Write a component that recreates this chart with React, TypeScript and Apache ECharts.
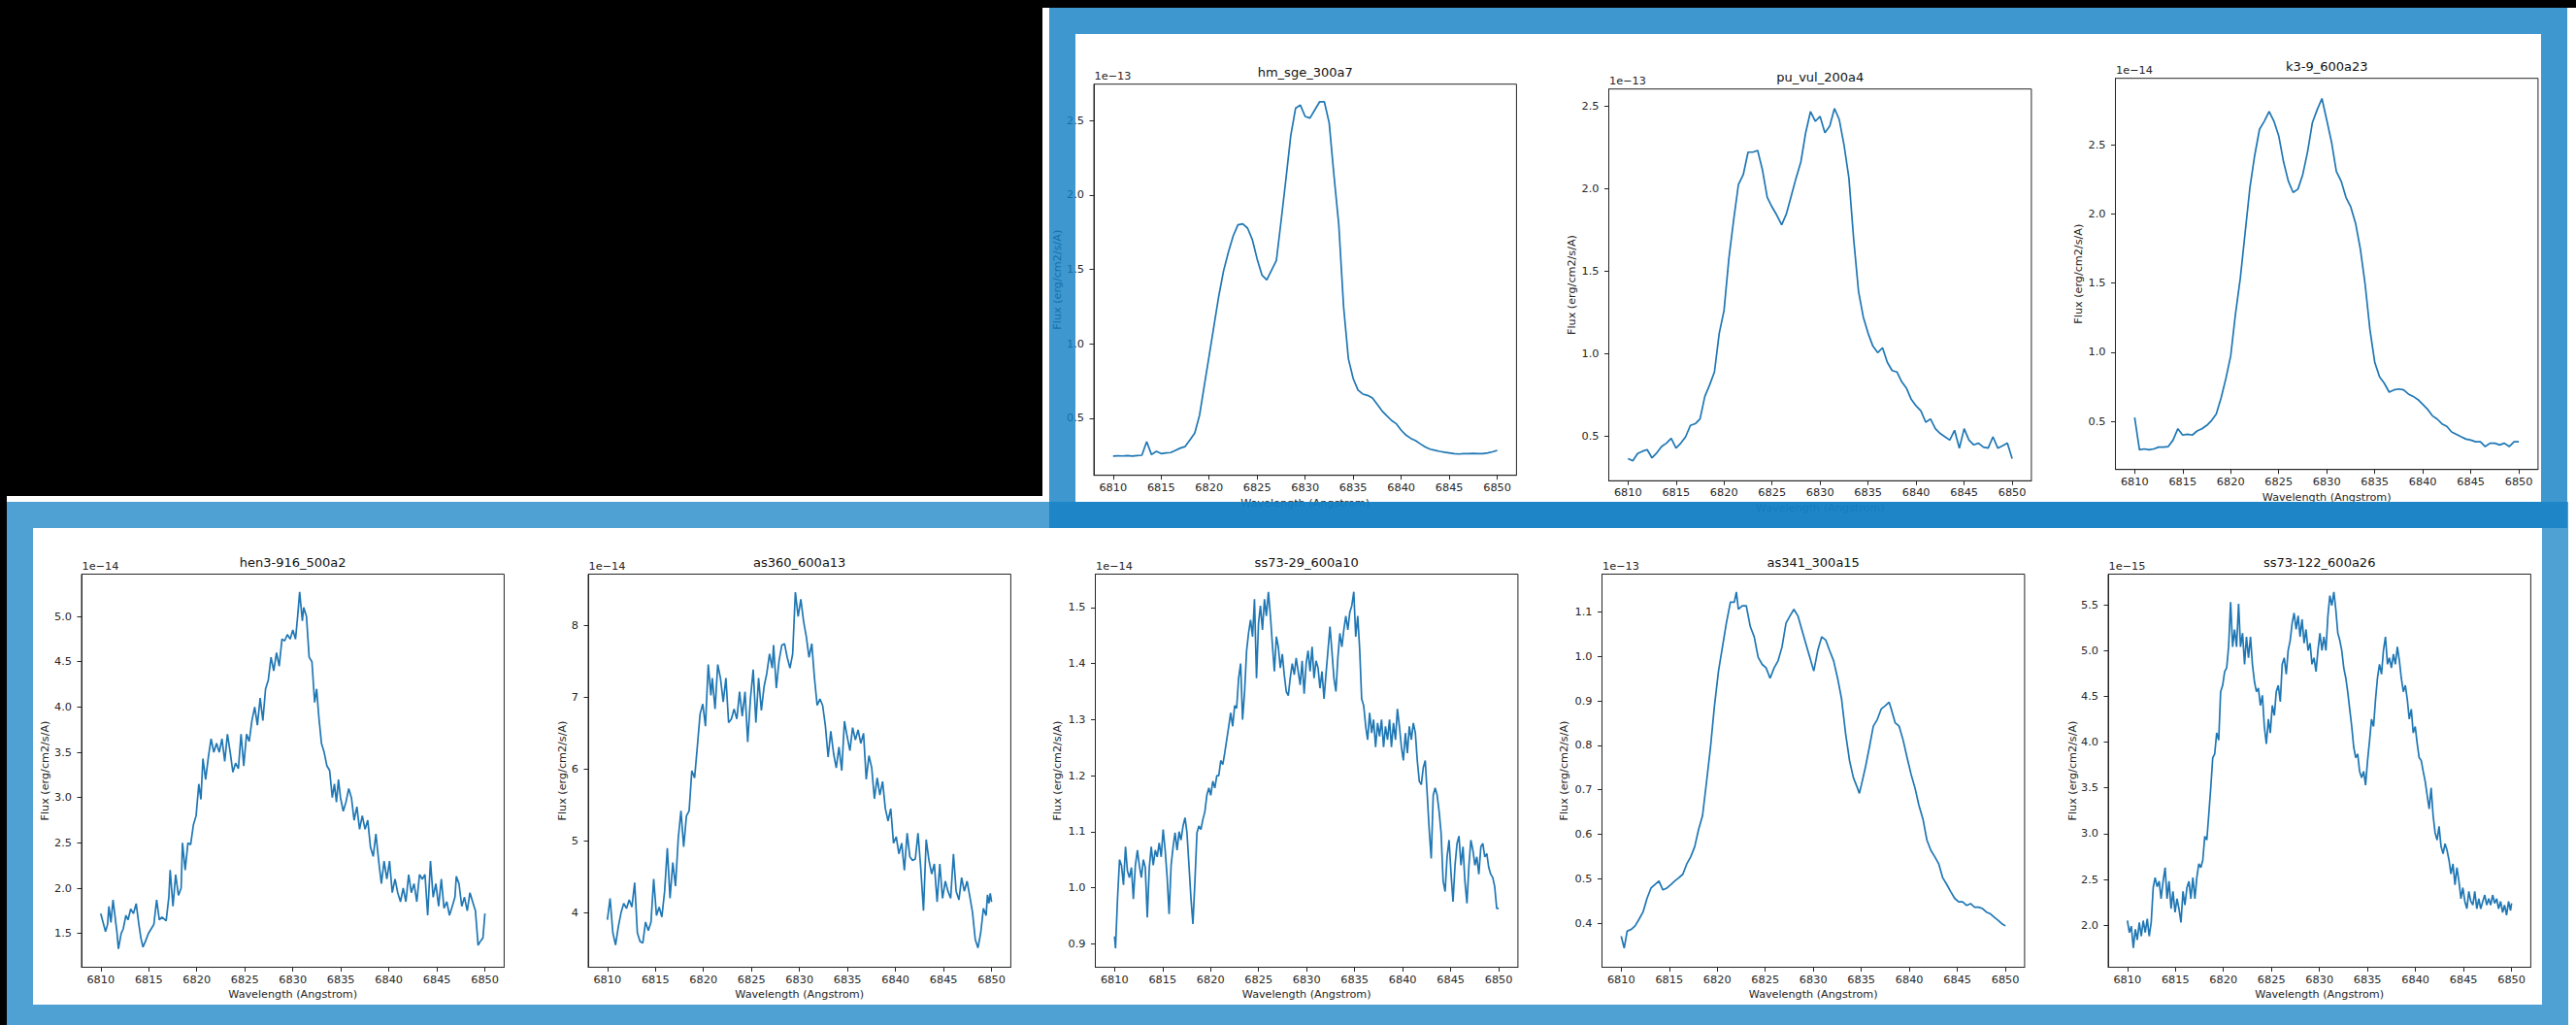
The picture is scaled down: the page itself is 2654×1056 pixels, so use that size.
import React, { useEffect, useRef } from "react";
import * as echarts from "echarts";

// ---------------- data ----------------
const X_TICKS = [6810, 6815, 6820, 6825, 6830, 6835, 6840, 6845, 6850];

const TITLES = [
  "hm_sge_300a7", "pu_vul_200a4", "k3-9_600a23",
  "hen3-916_500a2", "as360_600a13", "ss73-29_600a10", "as341_300a15", "ss73-122_600a26",
];
const EXPONENTS = ["1e\u221213", "1e\u221213", "1e\u221214", "1e\u221214", "1e\u221214", "1e\u221214", "1e\u221213", "1e\u221215"];

const Y_TICKS_HM = [0.5, 1.0, 1.5, 2.0, 2.5];
const Y_TICKS_PU = [0.5, 1.0, 1.5, 2.0, 2.5];
const Y_TICKS_K3 = [0.5, 1.0, 1.5, 2.0, 2.5];
const Y_TICKS_HEN = [1.5, 2.0, 2.5, 3.0, 3.5, 4.0, 4.5, 5.0];
const Y_TICKS_AS360 = [4, 5, 6, 7, 8];
const Y_TICKS_SS29 = [0.9, 1.0, 1.1, 1.2, 1.3, 1.4, 1.5];
const Y_TICKS_AS341 = [0.4, 0.5, 0.6, 0.7, 0.8, 0.9, 1.0, 1.1];
const Y_TICKS_SS122 = [2.0, 2.5, 3.0, 3.5, 4.0, 4.5, 5.0, 5.5];

const WL_HALF = [
  6810, 6810.5, 6811, 6811.5, 6812, 6812.5, 6813, 6813.5, 6814, 6814.5,
  6815, 6815.5, 6816, 6816.5, 6817, 6817.5, 6818, 6818.5, 6819, 6819.5,
  6820, 6820.5, 6821, 6821.5, 6822, 6822.5, 6823, 6823.5, 6824, 6824.5,
  6825, 6825.5, 6826, 6826.5, 6827, 6827.5, 6828, 6828.5, 6829, 6829.5,
  6830, 6830.5, 6831, 6831.5, 6832, 6832.5, 6833, 6833.5, 6834, 6834.5,
  6835, 6835.5, 6836, 6836.5, 6837, 6837.5, 6838, 6838.5, 6839, 6839.5,
  6840, 6840.5, 6841, 6841.5, 6842, 6842.5, 6843, 6843.5, 6844, 6844.5,
  6845, 6845.5, 6846, 6846.5, 6847, 6847.5, 6848, 6848.5, 6849, 6849.5,
  6850,
];

const HM_FLUX = [
  0.246, 0.248, 0.247, 0.250, 0.246, 0.250, 0.252, 0.343, 0.256, 0.278,
  0.263, 0.268, 0.270, 0.285, 0.300, 0.310, 0.355, 0.400, 0.520, 0.720,
  0.920, 1.120, 1.320, 1.490, 1.615, 1.724, 1.800, 1.806, 1.778, 1.700,
  1.570, 1.463, 1.430, 1.495, 1.560, 1.830, 2.110, 2.400, 2.583, 2.604,
  2.528, 2.517, 2.572, 2.626, 2.626, 2.485, 2.130, 1.800, 1.250, 0.900,
  0.767, 0.690, 0.663, 0.654, 0.637, 0.594, 0.550, 0.517, 0.485, 0.463,
  0.420, 0.387, 0.365, 0.350, 0.328, 0.307, 0.293, 0.285, 0.278, 0.272,
  0.267, 0.262, 0.260, 0.262, 0.263, 0.264, 0.263, 0.262, 0.267, 0.275,
  0.285,
];

const PU_FLUX = [
  0.363, 0.350, 0.394, 0.408, 0.418, 0.368, 0.398, 0.437, 0.457, 0.486,
  0.427, 0.457, 0.496, 0.565, 0.575, 0.604, 0.741, 0.810, 0.889, 1.124,
  1.262, 1.576, 1.811, 2.027, 2.086, 2.223, 2.223, 2.233, 2.115, 1.948,
  1.890, 1.840, 1.782, 1.850, 1.958, 2.066, 2.164, 2.341, 2.469, 2.410,
  2.440, 2.341, 2.380, 2.488, 2.420, 2.263, 2.066, 1.693, 1.379, 1.222,
  1.124, 1.046, 1.006, 1.036, 0.948, 0.898, 0.889, 0.830, 0.790, 0.722,
  0.683, 0.653, 0.584, 0.604, 0.545, 0.516, 0.496, 0.476, 0.535, 0.427,
  0.545, 0.476, 0.447, 0.457, 0.433, 0.427, 0.496, 0.427, 0.441, 0.457,
  0.363,
];

const K3_FLUX = [
  0.528, 0.294, 0.300, 0.294, 0.300, 0.313, 0.313, 0.317, 0.364, 0.446,
  0.400, 0.406, 0.400, 0.430, 0.446, 0.470, 0.505, 0.552, 0.669, 0.810,
  0.973, 1.278, 1.535, 1.863, 2.190, 2.425, 2.613, 2.672, 2.742, 2.672,
  2.566, 2.379, 2.238, 2.156, 2.180, 2.285, 2.449, 2.660, 2.754, 2.836,
  2.680, 2.520, 2.308, 2.238, 2.121, 2.051, 1.934, 1.746, 1.489, 1.161,
  0.926, 0.821, 0.774, 0.711, 0.727, 0.734, 0.727, 0.697, 0.680, 0.657,
  0.622, 0.587, 0.540, 0.516, 0.481, 0.463, 0.423, 0.406, 0.388, 0.371,
  0.364, 0.352, 0.352, 0.317, 0.341, 0.341, 0.329, 0.341, 0.317, 0.352,
  0.352,
];

const HEN_WL = [
  6810.00, 6810.50, 6810.71, 6810.85, 6811.06, 6811.28, 6811.70, 6811.84, 6812.13, 6812.34,
  6812.62, 6812.84, 6813.12, 6813.40, 6813.69, 6813.97, 6814.18, 6814.40, 6814.68, 6814.96,
  6815.25, 6815.53, 6815.82, 6816.10, 6816.38, 6816.81, 6817.09, 6817.23, 6817.52, 6817.80,
  6818.09, 6818.37, 6818.51, 6818.79, 6819.08, 6819.36, 6819.65, 6819.93, 6820.21, 6820.43,
  6820.64, 6820.92, 6821.21, 6821.49, 6821.77, 6822.06, 6822.34, 6822.62, 6822.91, 6823.19,
  6823.48, 6823.76, 6824.04, 6824.33, 6824.61, 6824.89, 6825.18, 6825.46, 6825.74, 6826.03,
  6826.31, 6826.60, 6826.88, 6827.16, 6827.45, 6827.73, 6828.01, 6828.30, 6828.58, 6828.87,
  6829.15, 6829.43, 6829.72, 6830.00, 6830.28, 6830.50, 6830.71, 6830.99, 6831.13, 6831.42,
  6831.70, 6831.99, 6832.27, 6832.48, 6832.70, 6832.98, 6833.26, 6833.55, 6833.83, 6834.11,
  6834.33, 6834.54, 6834.75, 6834.96, 6835.25, 6835.53, 6835.82, 6836.10, 6836.38, 6836.67,
  6836.95, 6837.23, 6837.52, 6837.80, 6838.09, 6838.37, 6838.65, 6838.94, 6839.22, 6839.50,
  6839.79, 6840.07, 6840.35, 6840.64, 6840.92, 6841.21, 6841.49, 6841.77, 6842.06, 6842.34,
  6842.62, 6842.91, 6843.19, 6843.48, 6843.76, 6844.04, 6844.33, 6844.61, 6844.89, 6845.18,
  6845.46, 6845.74, 6846.03, 6846.31, 6846.60, 6846.88, 6847.02, 6847.30, 6847.59, 6847.87,
  6848.16, 6848.44, 6848.72, 6849.01, 6849.29, 6849.57, 6849.79, 6850.00,
];
const HEN_FLUX = [
  1.72, 1.52, 1.60, 1.80, 1.62, 1.87, 1.50, 1.33, 1.50, 1.55,
  1.70, 1.65, 1.77, 1.72, 1.83, 1.60, 1.45, 1.35, 1.42, 1.50,
  1.55, 1.60, 1.87, 1.65, 1.68, 1.64, 1.90, 2.20, 1.80, 2.15,
  1.92, 2.00, 2.50, 2.20, 2.50, 2.48, 2.70, 2.80, 3.15, 2.98,
  3.43, 3.20, 3.45, 3.65, 3.50, 3.60, 3.50, 3.65, 3.40, 3.70,
  3.50, 3.28, 3.38, 3.32, 3.70, 3.35, 3.70, 3.62, 3.85, 4.00,
  3.80, 4.10, 3.85, 4.20, 4.30, 4.55, 4.40, 4.60, 4.45, 4.75,
  4.73, 4.80, 4.75, 4.85, 4.75, 5.00, 5.27, 4.95, 5.10, 5.00,
  4.55, 4.50, 4.05, 4.20, 3.90, 3.60, 3.50, 3.35, 3.30, 3.00,
  3.15, 2.95, 3.20, 3.00, 2.85, 2.95, 3.10, 3.00, 2.75, 2.90,
  2.65, 2.80, 2.65, 2.75, 2.45, 2.35, 2.60, 2.30, 2.05, 2.30,
  2.10, 2.30, 1.95, 2.10, 1.95, 1.85, 2.00, 1.85, 2.15, 1.95,
  2.05, 1.85, 2.15, 2.10, 2.15, 1.70, 2.30, 1.90, 2.05, 1.80,
  2.10, 1.78, 1.85, 1.70, 1.80, 1.90, 2.13, 2.05, 1.80, 1.90,
  1.75, 1.95, 1.85, 1.75, 1.37, 1.42, 1.45, 1.72,
];

const AS360_WL = [
  6810.00, 6810.28, 6810.57, 6810.85, 6811.13, 6811.42, 6811.70, 6811.99, 6812.27, 6812.55,
  6812.84, 6813.12, 6813.40, 6813.69, 6813.97, 6814.26, 6814.54, 6814.82, 6815.11, 6815.39,
  6815.67, 6815.96, 6816.24, 6816.52, 6816.81, 6817.09, 6817.38, 6817.66, 6817.94, 6818.23,
  6818.51, 6818.79, 6819.08, 6819.36, 6819.65, 6819.93, 6820.21, 6820.50, 6820.78, 6820.92,
  6821.21, 6821.49, 6821.77, 6822.06, 6822.34, 6822.62, 6822.91, 6823.19, 6823.48, 6823.76,
  6824.04, 6824.33, 6824.61, 6824.89, 6825.18, 6825.46, 6825.74, 6826.03, 6826.31, 6826.60,
  6826.88, 6827.16, 6827.30, 6827.59, 6827.87, 6828.16, 6828.44, 6828.72, 6829.01, 6829.29,
  6829.57, 6829.86, 6830.14, 6830.43, 6830.71, 6830.99, 6831.28, 6831.56, 6831.84, 6832.13,
  6832.41, 6832.70, 6832.98, 6833.26, 6833.55, 6833.83, 6834.11, 6834.40, 6834.68, 6834.96,
  6835.25, 6835.53, 6835.82, 6836.10, 6836.38, 6836.67, 6836.95, 6837.23, 6837.52, 6837.80,
  6838.09, 6838.37, 6838.65, 6838.94, 6839.22, 6839.50, 6839.79, 6840.07, 6840.35, 6840.64,
  6840.92, 6841.21, 6841.49, 6841.77, 6842.06, 6842.34, 6842.62, 6842.91, 6843.19, 6843.48,
  6843.76, 6844.04, 6844.33, 6844.61, 6844.89, 6845.18, 6845.46, 6845.74, 6846.03, 6846.31,
  6846.60, 6846.88, 6847.16, 6847.45, 6847.73, 6848.01, 6848.30, 6848.58, 6848.87, 6849.15,
  6849.43, 6849.57, 6849.72, 6849.86, 6850.00,
];
const AS360_FLUX = [
  3.90, 4.20, 3.72, 3.55, 3.80, 4.00, 4.13, 4.06, 4.18, 4.08,
  4.42, 3.72, 3.60, 3.58, 3.87, 3.75, 3.87, 4.47, 3.96, 4.08,
  3.94, 4.30, 4.90, 4.20, 4.70, 4.37, 5.04, 5.42, 4.92, 5.35,
  5.42, 5.98, 5.88, 6.31, 6.77, 6.91, 6.60, 7.46, 7.03, 7.27,
  6.84, 7.46, 7.27, 6.94, 7.27, 6.65, 6.70, 6.84, 6.70, 7.08,
  6.74, 7.08, 6.38, 6.98, 7.39, 6.65, 7.27, 6.82, 7.15, 7.34,
  7.61, 7.41, 7.73, 7.13, 7.51, 7.73, 7.75, 7.56, 7.41, 7.61,
  8.47, 8.13, 8.37, 8.06, 7.85, 7.56, 7.75, 7.27, 6.89, 6.98,
  6.89, 6.60, 6.17, 6.53, 6.22, 6.02, 6.31, 5.98, 6.67, 6.46,
  6.26, 6.58, 6.41, 6.55, 6.36, 6.50, 5.86, 6.19, 6.02, 5.59,
  5.88, 5.64, 5.83, 5.45, 5.28, 5.45, 4.97, 5.06, 4.82, 4.97,
  4.59, 5.11, 4.78, 4.73, 4.75, 5.11, 4.63, 4.03, 5.02, 4.73,
  4.54, 4.68, 4.15, 4.68, 4.20, 4.44, 4.30, 4.20, 4.82, 4.30,
  4.18, 4.49, 4.30, 4.44, 4.23, 4.01, 3.63, 3.51, 3.72, 4.06,
  3.96, 4.25, 4.13, 4.27, 4.15,
];

const SS29_WL = [
  6810.00, 6810.10, 6810.31, 6810.52, 6810.72, 6810.93, 6811.14, 6811.34, 6811.55, 6811.76,
  6811.96, 6812.17, 6812.38, 6812.58, 6812.79, 6813.00, 6813.20, 6813.41, 6813.62, 6813.82,
  6814.03, 6814.24, 6814.44, 6814.65, 6814.86, 6815.06, 6815.27, 6815.48, 6815.68, 6815.89,
  6816.10, 6816.30, 6816.51, 6816.72, 6816.92, 6817.13, 6817.34, 6817.54, 6817.75, 6817.96,
  6818.16, 6818.37, 6818.58, 6818.78, 6818.99, 6819.20, 6819.40, 6819.61, 6819.82, 6820.02,
  6820.23, 6820.44, 6820.65, 6820.85, 6821.06, 6821.27, 6821.47, 6821.68, 6821.89, 6822.09,
  6822.30, 6822.51, 6822.71, 6822.92, 6823.13, 6823.33, 6823.54, 6823.75, 6823.95, 6824.16,
  6824.37, 6824.57, 6824.78, 6824.99, 6825.19, 6825.40, 6825.61, 6825.81, 6826.02, 6826.23,
  6826.43, 6826.64, 6826.85, 6827.05, 6827.26, 6827.47, 6827.67, 6827.88, 6828.09, 6828.29,
  6828.50, 6828.71, 6828.91, 6829.12, 6829.33, 6829.53, 6829.74, 6829.95, 6830.15, 6830.36,
  6830.57, 6830.77, 6830.98, 6831.19, 6831.39, 6831.60, 6831.81, 6832.01, 6832.22, 6832.43,
  6832.63, 6832.84, 6833.05, 6833.25, 6833.46, 6833.67, 6833.87, 6834.08, 6834.29, 6834.49,
  6834.70, 6834.91, 6835.11, 6835.32, 6835.53, 6835.73, 6835.94, 6836.15, 6836.35, 6836.56,
  6836.77, 6836.97, 6837.18, 6837.39, 6837.59, 6837.80, 6838.01, 6838.21, 6838.42, 6838.63,
  6838.83, 6839.04, 6839.25, 6839.45, 6839.66, 6839.87, 6840.07, 6840.28, 6840.49, 6840.69,
  6840.90, 6841.11, 6841.32, 6841.52, 6841.73, 6841.94, 6842.14, 6842.35, 6842.56, 6842.76,
  6842.97, 6843.18, 6843.38, 6843.59, 6843.80, 6844.00, 6844.21, 6844.42, 6844.62, 6844.83,
  6845.04, 6845.24, 6845.45, 6845.66, 6845.86, 6846.07, 6846.28, 6846.48, 6846.69, 6846.90,
  6847.10, 6847.31, 6847.52, 6847.72, 6847.93, 6848.14, 6848.34, 6848.55, 6848.76, 6848.96,
  6849.17, 6849.38, 6849.58, 6849.79, 6850.00,
];
const SS29_FLUX = [
  0.913, 0.892, 0.980, 1.050, 1.040, 1.005, 1.073, 1.030, 1.018, 1.036,
  0.980, 1.040, 1.067, 1.040, 1.018, 1.050, 1.036, 0.947, 1.036, 1.073,
  1.040, 1.067, 1.055, 1.080, 1.055, 1.104, 1.067, 1.018, 0.953, 1.040,
  1.073, 1.098, 1.067, 1.100, 1.085, 1.110, 1.125, 1.098, 1.040, 0.980,
  0.935, 1.012, 1.098, 1.110, 1.104, 1.122, 1.135, 1.165, 1.178, 1.165,
  1.190, 1.178, 1.200, 1.200, 1.227, 1.220, 1.240, 1.264, 1.288, 1.312,
  1.288, 1.325, 1.320, 1.374, 1.400, 1.300, 1.350, 1.423, 1.454, 1.478,
  1.448, 1.515, 1.374, 1.472, 1.503, 1.460, 1.515, 1.485, 1.528, 1.485,
  1.435, 1.386, 1.448, 1.430, 1.392, 1.417, 1.380, 1.350, 1.343, 1.374,
  1.400, 1.380, 1.410, 1.386, 1.362, 1.405, 1.346, 1.400, 1.423, 1.386,
  1.430, 1.374, 1.405, 1.392, 1.356, 1.386, 1.337, 1.380, 1.423, 1.466,
  1.423, 1.374, 1.350, 1.410, 1.454, 1.430, 1.460, 1.485, 1.460, 1.491,
  1.503, 1.528, 1.448, 1.485, 1.423, 1.337, 1.325, 1.288, 1.264, 1.312,
  1.276, 1.300, 1.251, 1.294, 1.270, 1.300, 1.251, 1.288, 1.264, 1.300,
  1.251, 1.294, 1.264, 1.319, 1.288, 1.251, 1.227, 1.276, 1.240, 1.288,
  1.264, 1.294, 1.276, 1.227, 1.190, 1.184, 1.214, 1.227, 1.165, 1.104,
  1.052, 1.165, 1.178, 1.165, 1.135, 1.098, 1.012, 0.993, 1.055, 1.085,
  1.024, 0.975, 1.040, 1.079, 1.092, 1.040, 1.073, 1.012, 0.972, 1.040,
  1.085, 1.067, 1.040, 1.055, 1.024, 1.073, 1.079, 1.055, 1.061, 1.036,
  1.024, 1.018, 1.002, 0.963, 0.963,
];

const AS341_WL = [
  6810.00, 6810.31, 6810.62, 6811.03, 6811.45, 6811.86, 6812.27, 6812.69, 6813.10, 6813.51,
  6813.93, 6814.34, 6814.75, 6815.17, 6815.58, 6815.99, 6816.41, 6816.82, 6817.23, 6817.65,
  6818.06, 6818.47, 6818.89, 6819.30, 6819.71, 6820.13, 6820.54, 6820.95, 6821.37, 6821.78,
  6821.99, 6822.20, 6822.61, 6823.02, 6823.44, 6823.85, 6824.26, 6824.68, 6825.09, 6825.50,
  6825.92, 6826.33, 6826.74, 6827.16, 6827.57, 6827.98, 6828.40, 6828.81, 6829.22, 6829.64,
  6830.05, 6830.46, 6830.88, 6831.29, 6831.70, 6832.12, 6832.53, 6832.94, 6833.36, 6833.77,
  6834.18, 6834.60, 6834.80, 6835.01, 6835.42, 6835.84, 6836.25, 6836.66, 6837.08, 6837.49,
  6837.90, 6838.11, 6838.52, 6838.94, 6839.35, 6839.76, 6840.18, 6840.59, 6841.00, 6841.42,
  6841.83, 6842.24, 6842.66, 6843.07, 6843.48, 6843.90, 6844.31, 6844.72, 6845.14, 6845.55,
  6845.97, 6846.38, 6846.79, 6847.21, 6847.62, 6848.03, 6848.45, 6848.86, 6849.27, 6849.69,
  6850.00,
];
const AS341_FLUX = [
  0.371, 0.344, 0.382, 0.386, 0.394, 0.409, 0.425, 0.456, 0.479, 0.487,
  0.495, 0.475, 0.479, 0.487, 0.495, 0.502, 0.510, 0.533, 0.549, 0.572,
  0.611, 0.642, 0.719, 0.796, 0.889, 0.967, 1.021, 1.075, 1.122, 1.122,
  1.145, 1.106, 1.114, 1.114, 1.067, 1.044, 0.998, 0.982, 0.974, 0.951,
  0.974, 0.990, 1.021, 1.075, 1.091, 1.106, 1.091, 1.060, 1.029, 0.998,
  0.967, 1.013, 1.044, 1.037, 1.013, 0.990, 0.951, 0.905, 0.827, 0.766,
  0.727, 0.704, 0.692, 0.711, 0.750, 0.796, 0.843, 0.858, 0.882, 0.889,
  0.897, 0.882, 0.851, 0.843, 0.812, 0.773, 0.735, 0.704, 0.665, 0.634,
  0.587, 0.564, 0.549, 0.533, 0.502, 0.487, 0.471, 0.456, 0.448, 0.448,
  0.440, 0.444, 0.436, 0.436, 0.433, 0.425, 0.421, 0.413, 0.406, 0.398,
  0.394,
];

const SS122_WL = [
  6810.00, 6810.21, 6810.41, 6810.62, 6810.83, 6811.03, 6811.24, 6811.45, 6811.65, 6811.86,
  6812.07, 6812.27, 6812.48, 6812.69, 6812.89, 6813.10, 6813.31, 6813.51, 6813.72, 6813.93,
  6814.13, 6814.34, 6814.55, 6814.75, 6814.96, 6815.17, 6815.37, 6815.58, 6815.79, 6815.99,
  6816.20, 6816.41, 6816.61, 6816.82, 6817.03, 6817.23, 6817.44, 6817.65, 6817.85, 6818.06,
  6818.27, 6818.47, 6818.68, 6818.89, 6819.09, 6819.30, 6819.51, 6819.71, 6819.92, 6820.13,
  6820.34, 6820.54, 6820.75, 6820.96, 6821.16, 6821.37, 6821.58, 6821.78, 6821.99, 6822.20,
  6822.40, 6822.61, 6822.82, 6823.02, 6823.23, 6823.44, 6823.64, 6823.85, 6824.06, 6824.26,
  6824.47, 6824.68, 6824.88, 6825.09, 6825.30, 6825.50, 6825.71, 6825.92, 6826.12, 6826.33,
  6826.54, 6826.74, 6826.95, 6827.16, 6827.36, 6827.57, 6827.78, 6827.98, 6828.19, 6828.40,
  6828.60, 6828.81, 6829.02, 6829.22, 6829.43, 6829.64, 6829.84, 6830.05, 6830.26, 6830.46,
  6830.67, 6830.88, 6831.08, 6831.29, 6831.50, 6831.70, 6831.91, 6832.12, 6832.32, 6832.53,
  6832.74, 6832.94, 6833.15, 6833.36, 6833.56, 6833.77, 6833.98, 6834.18, 6834.39, 6834.60,
  6834.80, 6835.01, 6835.22, 6835.42, 6835.63, 6835.84, 6836.04, 6836.25, 6836.46, 6836.66,
  6836.87, 6837.08, 6837.28, 6837.49, 6837.70, 6837.90, 6838.11, 6838.32, 6838.52, 6838.73,
  6838.94, 6839.14, 6839.35, 6839.56, 6839.76, 6839.97, 6840.18, 6840.38, 6840.59, 6840.80,
  6841.01, 6841.21, 6841.42, 6841.63, 6841.83, 6842.04, 6842.25, 6842.45, 6842.66, 6842.87,
  6843.07, 6843.28, 6843.49, 6843.69, 6843.90, 6844.11, 6844.31, 6844.52, 6844.73, 6844.93,
  6845.14, 6845.35, 6845.55, 6845.76, 6845.97, 6846.17, 6846.38, 6846.59, 6846.79, 6847.00,
  6847.21, 6847.41, 6847.62, 6847.83, 6848.03, 6848.24, 6848.45, 6848.65, 6848.86, 6849.07,
  6849.27, 6849.48, 6849.69, 6849.89, 6850.00,
];
const SS122_FLUX = [
  2.05, 1.92, 1.99, 1.75, 1.955, 1.84, 2.03, 1.88, 2.05, 1.92,
  2.07, 1.88, 2.03, 2.41, 2.52, 2.42, 2.48, 2.29, 2.48, 2.63,
  2.29, 2.48, 2.18, 2.37, 2.14, 2.29, 2.18, 2.03, 2.37, 2.22,
  2.41, 2.48, 2.29, 2.52, 2.29, 2.52, 2.67, 2.63, 2.71, 2.97,
  2.93, 3.20, 3.50, 3.83, 3.87, 4.10, 4.02, 4.55, 4.62, 4.77,
  4.81, 5.04, 5.53, 5.04, 5.23, 5.04, 5.51, 5.04, 5.19, 4.85,
  5.15, 4.92, 5.15, 4.85, 4.66, 4.55, 4.59, 4.40, 4.51, 4.17,
  3.98, 4.25, 4.10, 4.40, 4.29, 4.55, 4.62, 4.44, 4.85, 4.92,
  4.74, 5.00, 5.11, 5.30, 5.41, 5.23, 5.38, 5.15, 5.34, 5.08,
  5.23, 5.00, 5.08, 4.85, 4.92, 4.77, 5.00, 5.19, 5.00, 5.15,
  5.00, 5.38, 5.60, 5.49, 5.64, 5.45, 5.19, 5.11, 5.00, 4.81,
  4.70, 4.55, 4.36, 4.17, 3.95, 3.83, 3.87, 3.68, 3.61, 3.68,
  3.53, 3.80, 4.02, 4.25, 4.17, 4.47, 4.70, 4.85, 4.74, 5.00,
  5.15, 4.85, 4.92, 4.81, 4.96, 4.85, 5.04, 4.89, 4.70, 4.55,
  4.62, 4.47, 4.25, 4.36, 4.10, 4.17, 3.98, 3.83, 3.80, 3.68,
  3.57, 3.42, 3.27, 3.50, 3.20, 3.01, 2.93, 3.08, 2.86, 2.78,
  2.89, 2.82, 2.71, 2.56, 2.67, 2.44, 2.63, 2.48, 2.29, 2.41,
  2.26, 2.18, 2.37, 2.26, 2.22, 2.37, 2.18, 2.29, 2.18, 2.26,
  2.33, 2.22, 2.29, 2.22, 2.33, 2.24, 2.29, 2.18, 2.26, 2.14,
  2.22, 2.11, 2.26, 2.16, 2.24,
];

// ---------------- layout ----------------
const PAGE_W = 2654;
const PAGE_H = 1056;
const PLOT_W = 435.4;
const X_MIN = 6808;
const X_MAX = 6852;
const FONT = "DejaVu Sans";
const INK = "#262626";
const LINE = "#1f77b4";

type Panel = {
  wl: number[]; flux: number[]; yMin: number; yMax: number; yTicks: number[]; dec: number;
  left: number; top: number; height: number; yNameOff: number;
};

const PANELS: Panel[] = [
  { wl: WL_HALF, flux: HM_FLUX, yMin: 0.117, yMax: 2.745, yTicks: Y_TICKS_HM, dec: 1, left: 1127, top: 86.7, height: 403, yNameOff: 38 },
  { wl: WL_HALF, flux: PU_FLUX, yMin: 0.229, yMax: 2.606, yTicks: Y_TICKS_PU, dec: 1, left: 1657.5, top: 91.7, height: 403.6, yNameOff: 38 },
  { wl: WL_HALF, flux: K3_FLUX, yMin: 0.151, yMax: 2.982, yTicks: Y_TICKS_K3, dec: 1, left: 2179.5, top: 80.7, height: 403, yNameOff: 38 },
  { wl: HEN_WL, flux: HEN_FLUX, yMin: 1.127, yMax: 5.467, yTicks: Y_TICKS_HEN, dec: 1, left: 84, top: 591.5, height: 405, yNameOff: 38 },
  { wl: AS360_WL, flux: AS360_FLUX, yMin: 3.24, yMax: 8.72, yTicks: Y_TICKS_AS360, dec: 0, left: 606, top: 591.5, height: 405, yNameOff: 27 },
  { wl: SS29_WL, flux: SS29_FLUX, yMin: 0.858, yMax: 1.5596, yTicks: Y_TICKS_SS29, dec: 1, left: 1128.5, top: 591.5, height: 405, yNameOff: 39 },
  { wl: AS341_WL, flux: AS341_FLUX, yMin: 0.301, yMax: 1.185, yTicks: Y_TICKS_AS341, dec: 1, left: 1650.5, top: 591.5, height: 405, yNameOff: 39 },
  { wl: SS122_WL, flux: SS122_FLUX, yMin: 1.541, yMax: 5.834, yTicks: Y_TICKS_SS122, dec: 1, left: 2172, top: 591.5, height: 405, yNameOff: 37 },
];

function buildOption() {
  const grids = PANELS.map((p) => ({
    left: p.left, top: p.top, width: PLOT_W, height: p.height,
    show: true, backgroundColor: "#ffffff", borderColor: INK, borderWidth: 1, z: 2,
  }));

  const xAxes = PANELS.map((p, i) => ({
    type: "value", gridIndex: i, min: X_MIN, max: X_MAX, z: 3,
    axisLine: { show: true, lineStyle: { color: INK, width: 1 } },
    axisTick: { show: true, length: 4.5, inside: false, customValues: X_TICKS, lineStyle: { color: INK, width: 1 } },
    axisLabel: {
      customValues: X_TICKS, margin: 7, color: INK, fontSize: 11.3, fontFamily: FONT,
      formatter: (v: number) => String(v),
    },
    splitLine: { show: false },
  }));

  const yAxes = PANELS.map((p, i) => ({
    type: "value", gridIndex: i, min: p.yMin, max: p.yMax, z: 3,
    axisLine: { show: true, lineStyle: { color: INK, width: 1 } },
    axisTick: { show: true, length: 4.5, inside: false, customValues: p.yTicks, lineStyle: { color: INK, width: 1 } },
    axisLabel: {
      customValues: p.yTicks, margin: 10, color: INK, fontSize: 11.3, fontFamily: FONT,
      formatter: (v: number) => v.toFixed(p.dec),
    },
    splitLine: { show: false },
  }));

  const series = PANELS.map((p, i) => ({
    type: "line", xAxisIndex: i, yAxisIndex: i, z: 4,
    data: p.wl.map((x, k) => [x, p.flux[k]]),
    showSymbol: false, symbol: "none", smooth: false, silent: true, clip: true,
    lineStyle: { color: LINE, width: 1.7 },
  }));

  const texts: any[] = [];
  PANELS.forEach((p, i) => {
    const cx = p.left + PLOT_W / 2;
    texts.push({
      type: "text", x: cx, y: p.top - 12.5, z: 10, silent: true,
      style: { text: TITLES[i], fill: "#111", fontSize: 13, fontFamily: FONT, align: "center", verticalAlign: "middle" },
    });
    texts.push({
      type: "text", x: p.left + 0.5, y: p.top - 8, z: 10, silent: true,
      style: { text: EXPONENTS[i], fill: INK, fontSize: 11.3, fontFamily: FONT, align: "left", verticalAlign: "middle" },
    });
    texts.push({
      type: "text", x: cx, y: p.top + p.height + 28.3, z: 10, silent: true,
      style: { text: "Wavelength (Angstrom)", fill: INK, fontSize: 11.2, fontFamily: FONT, align: "center", verticalAlign: "middle" },
    });
    texts.push({
      type: "text", x: p.left - p.yNameOff, y: p.top + p.height / 2, rotation: Math.PI / 2, z: 10, silent: true,
      style: { text: "Flux (erg/cm2/s/A)", fill: INK, fontSize: 11.2, fontFamily: FONT, align: "center", verticalAlign: "middle" },
    });
  });

  const graphics = [
    // white backgrounds of the two pasted panels
    { type: "rect", z: 0, silent: true, shape: { x: 1074, y: 8, width: 1580, height: 509 }, style: { fill: "#ffffff" } },
    { type: "rect", z: 0, silent: true, shape: { x: 7, y: 511, width: 2647, height: 545 }, style: { fill: "#ffffff" } },
    ...texts,
    // translucent blue frames
    {
      type: "rect", z: 50, silent: true,
      shape: { x: 20.5, y: 530.5, width: 2612, height: 518 },
      style: { fill: "none", stroke: "rgba(20,128,196,0.75)", lineWidth: 27, lineJoin: "miter" },
    },
    {
      type: "rect", z: 51, silent: true,
      shape: { x: 1094.5, y: 21.5, width: 1537, height: 509 },
      style: { fill: "none", stroke: "rgba(20,128,196,0.82)", lineWidth: 27, lineJoin: "miter" },
    },
  ];

  return {
    animation: false,
    backgroundColor: "#000000",
    textStyle: { fontFamily: FONT },
    grid: grids,
    xAxis: xAxes,
    yAxis: yAxes,
    series,
    graphic: { elements: graphics },
  };
}

export default function App() {
  const ref = useRef<HTMLDivElement>(null);
  useEffect(() => {
    document.body.style.margin = "0";
    document.body.style.overflow = "hidden";
    const chart = echarts.init(ref.current as HTMLDivElement, null, { renderer: "svg" });
    chart.setOption(buildOption() as any);
    return () => {
      chart.dispose();
    };
  }, []);
  return (
    <div
      ref={ref}
      style={{ position: "absolute", left: 0, top: 0, width: PAGE_W, height: PAGE_H }}
    />
  );
}
